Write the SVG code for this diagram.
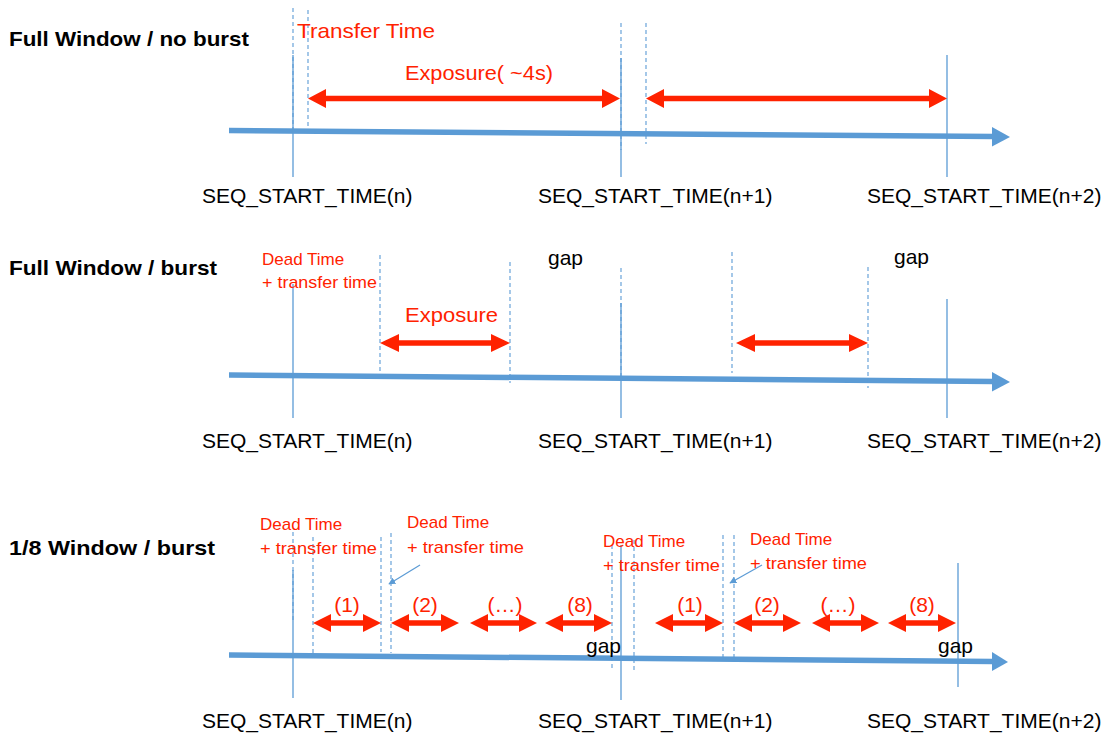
<svg xmlns="http://www.w3.org/2000/svg" width="1108" height="736" viewBox="0 0 1108 736">
  <style>
    .title { font-family: "Liberation Sans", Arial, sans-serif; font-weight: bold; font-size: 21px; fill: #000; }
    .seq { font-family: "Liberation Sans", Arial, sans-serif; font-size: 21px; fill: #000; }
    .gap { font-family: "Liberation Sans", Arial, sans-serif; font-size: 21px; fill: #000; }
    .red { font-family: "Liberation Sans", Arial, sans-serif; font-size: 21px; fill: #ff2200; }
    .redsm { font-family: "Liberation Sans", Arial, sans-serif; font-size: 17px; fill: #ff2200; }
    .axis { stroke: #5b9bd5; stroke-width: 5.5; fill: none; }
    .axishead { fill: #5b9bd5; }
    .tick { stroke: #5b9bd5; stroke-width: 1.3; fill: none; }
    .dash { stroke: #5b9bd5; stroke-width: 1.1; stroke-dasharray: 4 3; fill: none; }
    .span { fill: #ff2200; }
    .pointer { stroke: #5b9bd5; stroke-width: 1.2; fill: none; }
  </style>
  <defs>
    <marker id="tip" viewBox="0 0 10 10" refX="9" refY="5" markerWidth="7" markerHeight="7" orient="auto" markerUnits="userSpaceOnUse">
      <path d="M0,0 L10,5 L0,10 Z" fill="#5b9bd5"/>
    </marker>
  </defs>

  <rect width="1108" height="736" fill="#fff"/>

  <!-- Row 1: full window, no burst -->
  <g id="row1">
    <g id="row1-title"><text class="title" x="9" y="46" textLength="240" lengthAdjust="spacingAndGlyphs">Full Window / no burst</text></g>
    <g id="row1-axis">
      <path class="axis" d="M229,130.5 L994,136.5"/>
      <path class="axishead" d="M1010,137 L992,127 L992,146.5 Z"/>
    </g>
    <g id="row1-marks">
      <path class="dash" d="M293,8 V130"/>
      <path class="tick" d="M293,55 V177"/>
      <path class="dash" d="M308,10 V128"/>
      <path class="dash" d="M621,23 V150"/>
      <path class="tick" d="M621,58 V177"/>
      <path class="dash" d="M646,23 V144"/>
      <path class="tick" d="M947,55 V177"/>
    </g>
    <g id="row1-spans">
      <path class="span" d="M308,98.5 L326,89 L326,95.7 L602,95.7 L602,89 L620,98.5 L602,108 L602,101.3 L326,101.3 L326,108 Z"/>
      <path class="span" d="M646,98.5 L664,89 L664,95.7 L929,95.7 L929,89 L947,98.5 L929,108 L929,101.3 L664,101.3 L664,108 Z"/>
    </g>
    <g id="row1-labels">
      <text class="red" x="297" y="38" textLength="138" lengthAdjust="spacingAndGlyphs">Transfer Time</text>
      <text class="red" x="405" y="80" textLength="148" lengthAdjust="spacingAndGlyphs">Exposure( ~4s)</text>
      <text class="seq" x="202" y="203">SEQ_START_TIME(n)</text>
      <text class="seq" x="538" y="203">SEQ_START_TIME(n+1)</text>
      <text class="seq" x="867" y="203">SEQ_START_TIME(n+2)</text>
    </g>
  </g>

  <!-- Row 2: full window, burst -->
  <g id="row2">
    <g id="row2-title"><text class="title" x="9" y="275" textLength="208" lengthAdjust="spacingAndGlyphs">Full Window / burst</text></g>
    <g id="row2-axis">
      <path class="axis" d="M229,375 L994,381.5"/>
      <path class="axishead" d="M1010,382 L992,372 L992,391.5 Z"/>
    </g>
    <g id="row2-marks">
      <path class="tick" d="M293,284 V418"/>
      <path class="dash" d="M380,255 V375"/>
      <path class="dash" d="M510,262 V383"/>
      <path class="dash" d="M621,268 V380"/>
      <path class="tick" d="M621,303 V418"/>
      <path class="dash" d="M732,252 V373"/>
      <path class="dash" d="M868,267 V388"/>
      <path class="tick" d="M947,299 V418"/>
    </g>
    <g id="row2-spans">
      <path class="span" d="M380,343 L399,334 L399,340.3 L491,340.3 L491,334 L510,343 L491,352 L491,345.7 L399,345.7 L399,352 Z"/>
      <path class="span" d="M736,343 L755,334 L755,340.3 L849,340.3 L849,334 L868,343 L849,352 L849,345.7 L755,345.7 L755,352 Z"/>
    </g>
    <g id="row2-labels">
      <text class="redsm" x="262" y="265">Dead Time</text>
      <text class="redsm" x="262" y="288" textLength="115" lengthAdjust="spacingAndGlyphs">+ transfer time</text>
      <text class="red" x="405" y="322" textLength="93" lengthAdjust="spacingAndGlyphs">Exposure</text>
      <text class="gap" x="548" y="265">gap</text>
      <text class="gap" x="894" y="264">gap</text>
      <text class="seq" x="202" y="448">SEQ_START_TIME(n)</text>
      <text class="seq" x="538" y="448">SEQ_START_TIME(n+1)</text>
      <text class="seq" x="867" y="448">SEQ_START_TIME(n+2)</text>
    </g>
  </g>

  <!-- Row 3: 1/8 window, burst -->
  <g id="row3">
    <g id="row3-title"><text class="title" x="9" y="555" textLength="206" lengthAdjust="spacingAndGlyphs">1/8 Window / burst</text></g>
    <g id="row3-axis">
      <path class="axis" d="M229,655 L993,661.5"/>
      <path class="axishead" d="M1008,662 L992,652 L992,671 Z"/>
    </g>
    <g id="row3-marks">
      <path class="dash" d="M293,532 V620"/>
      <path class="tick" d="M293,570 V698"/>
      <path class="dash" d="M313,537 V657"/>
      <path class="dash" d="M381,537 V652"/>
      <path class="dash" d="M391,533 V653"/>
      <path class="dash" d="M612,545 V668"/>
      <path class="tick" d="M621,545 V700"/>
      <path class="dash" d="M634,540 V672"/>
      <path class="dash" d="M723,535 V657"/>
      <path class="dash" d="M734,535 V657"/>
      <path class="tick" d="M958,563 V687"/>
    </g>
    <g id="row3-spans">
      <path class="span" d="M313,623 L331,614 L331,620.3 L363,620.3 L363,614 L381,623 L363,632 L363,625.7 L331,625.7 L331,632 Z"/>
      <path class="span" d="M391,623 L409,614 L409,620.3 L441,620.3 L441,614 L459,623 L441,632 L441,625.7 L409,625.7 L409,632 Z"/>
      <path class="span" d="M470,623 L488,614 L488,620.3 L519,620.3 L519,614 L537,623 L519,632 L519,625.7 L488,625.7 L488,632 Z"/>
      <path class="span" d="M545,623 L563,614 L563,620.3 L594,620.3 L594,614 L612,623 L594,632 L594,625.7 L563,625.7 L563,632 Z"/>
      <path class="span" d="M655,623 L673,614 L673,620.3 L705,620.3 L705,614 L723,623 L705,632 L705,625.7 L673,625.7 L673,632 Z"/>
      <path class="span" d="M734,623 L752,614 L752,620.3 L783,620.3 L783,614 L801,623 L783,632 L783,625.7 L752,625.7 L752,632 Z"/>
      <path class="span" d="M812,623 L830,614 L830,620.3 L861,620.3 L861,614 L879,623 L861,632 L861,625.7 L830,625.7 L830,632 Z"/>
      <path class="span" d="M888,623 L906,614 L906,620.3 L938,620.3 L938,614 L956,623 L938,632 L938,625.7 L906,625.7 L906,632 Z"/>
    </g>
    <g id="row3-pointers">
      <path class="pointer" d="M420,565 L389,584" marker-end="url(#tip)"/>
      <path class="pointer" d="M762,565 L730,583" marker-end="url(#tip)"/>
    </g>
    <g id="row3-labels">
      <text class="redsm" x="260" y="530">Dead Time</text>
      <text class="redsm" x="260" y="554" textLength="117" lengthAdjust="spacingAndGlyphs">+ transfer time</text>
      <text class="redsm" x="407" y="528">Dead Time</text>
      <text class="redsm" x="407" y="553" textLength="117" lengthAdjust="spacingAndGlyphs">+ transfer time</text>
      <text class="redsm" x="603" y="547">Dead Time</text>
      <text class="redsm" x="603" y="571" textLength="117" lengthAdjust="spacingAndGlyphs">+ transfer time</text>
      <text class="redsm" x="750" y="545">Dead Time</text>
      <text class="redsm" x="750" y="569" textLength="117" lengthAdjust="spacingAndGlyphs">+ transfer time</text>
      <g text-anchor="middle">
        <text class="red" x="347" y="612">(1)</text>
        <text class="red" x="425" y="612">(2)</text>
        <text class="red" x="505" y="612">(…)</text>
        <text class="red" x="580" y="612">(8)</text>
        <text class="red" x="690" y="612">(1)</text>
        <text class="red" x="767" y="612">(2)</text>
        <text class="red" x="838" y="612">(…)</text>
        <text class="red" x="922" y="612">(8)</text>
      </g>
      <text class="gap" x="586" y="653">gap</text>
      <text class="gap" x="938" y="653">gap</text>
      <text class="seq" x="202" y="728">SEQ_START_TIME(n)</text>
      <text class="seq" x="538" y="728">SEQ_START_TIME(n+1)</text>
      <text class="seq" x="867" y="728">SEQ_START_TIME(n+2)</text>
    </g>
  </g>
</svg>
